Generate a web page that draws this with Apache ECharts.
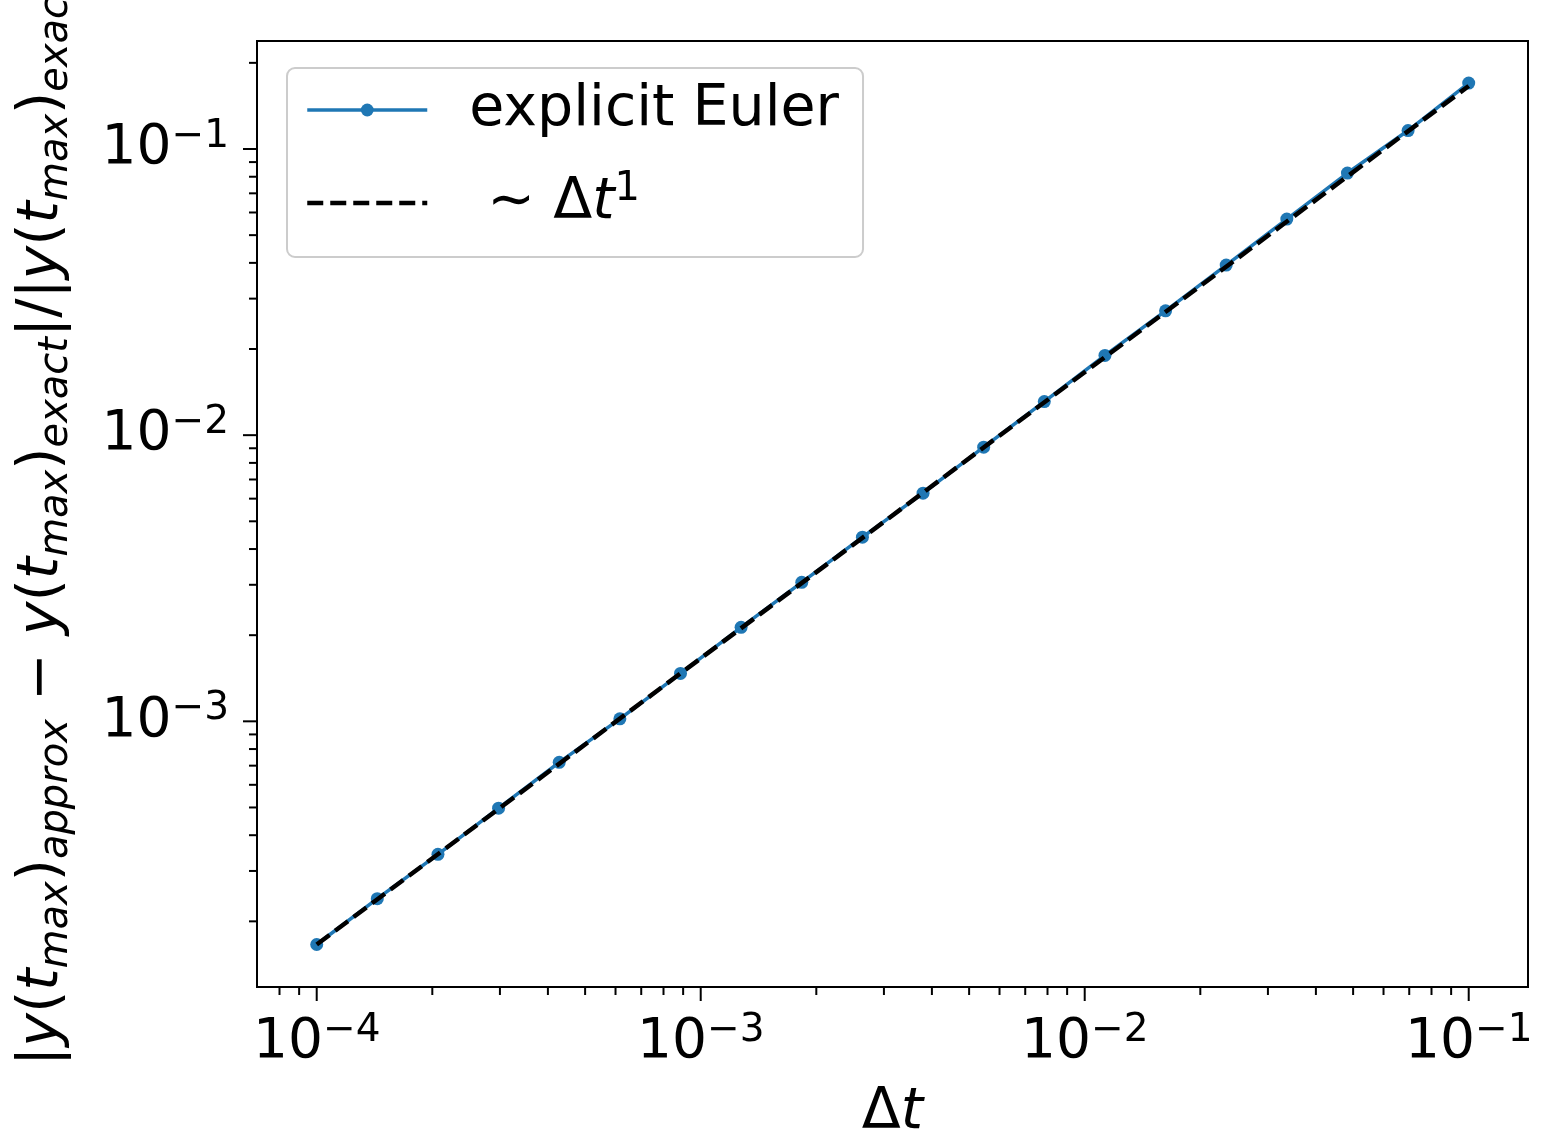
<!DOCTYPE html>
<html>
<head>
<meta charset="utf-8">
<title>explicit Euler convergence</title>
<script src="https://cdn.jsdelivr.net/npm/echarts@6/dist/echarts.min.js"></script>
<style>
  html, body { margin: 0; padding: 0; background: #fff; }
  #chart { width: 1542px; height: 1143px; }
</style>
</head>
<body>
<div id="chart"></div>
<script>
// step sizes (logspace 1e-4 .. 1e-1, 20 points)
var dtValues = [1.000e-4, 1.438e-4, 2.069e-4, 2.976e-4, 4.281e-4, 6.158e-4, 8.859e-4,
  1.274e-3, 1.833e-3, 2.637e-3, 3.793e-3, 5.456e-3, 7.848e-3, 1.129e-2, 1.624e-2,
  2.336e-2, 3.360e-2, 4.833e-2, 6.952e-2, 1.000e-1];
// relative error of explicit Euler
var eulerErr = [1.66e-4, 2.40e-4, 3.43e-4, 4.97e-4, 7.19e-4, 1.02e-3, 1.47e-3,
  2.13e-3, 3.06e-3, 4.40e-3, 6.27e-3, 9.08e-3, 1.31e-2, 1.90e-2, 2.72e-2,
  3.93e-2, 5.69e-2, 8.24e-2, 0.116, 0.170];
// ~dt^1 reference line (end points)
var refDt = [1.0e-4, 1.0e-1];
var refErr = [1.66e-4, 0.166];

// tick values
var xMajorTicks = [1e-4, 1e-3, 1e-2, 1e-1];
var xMinorTicks = [8e-5, 9e-5,
  2e-4, 3e-4, 4e-4, 5e-4, 6e-4, 7e-4, 8e-4, 9e-4,
  2e-3, 3e-3, 4e-3, 5e-3, 6e-3, 7e-3, 8e-3, 9e-3,
  2e-2, 3e-2, 4e-2, 5e-2, 6e-2, 7e-2, 8e-2, 9e-2];
var yMajorTicks = [1e-3, 1e-2, 1e-1];
var yMinorTicks = [2e-4, 3e-4, 4e-4, 5e-4, 6e-4, 7e-4, 8e-4, 9e-4,
  2e-3, 3e-3, 4e-3, 5e-3, 6e-3, 7e-3, 8e-3, 9e-3,
  2e-2, 3e-2, 4e-2, 5e-2, 6e-2, 7e-2, 8e-2, 9e-2, 2e-1];

var xMin = Math.pow(10, -4.1555), xMax = Math.pow(10, -0.8456);
var yMin = Math.pow(10, -3.9284), yMax = Math.pow(10, -0.6226);

var FONT = "DejaVu Sans";
var EULER = "explicit Euler";
var REF = "~Δt1";

function pow10Label(v) {
  var e = Math.round(Math.log10(v));
  return "{b|10}{s|" + (e < 0 ? "\u2212" + (-e) : e) + "}";
}

var labelRich = {
  b: { fontFamily: FONT, fontSize: 55, color: "#000", lineHeight: 64 },
  s: { fontFamily: FONT, fontSize: 39, color: "#000", lineHeight: 34, verticalAlign: "top" }
};

// short tick marks drawn through the axis scales
function tickSeries(values, dir, len) {
  return {
    type: "custom",
    silent: true,
    z: 10,
    xAxisIndex: 0,
    yAxisIndex: 0,
    data: values.map(function (v) { return dir === "x" ? [v, yMin] : [xMin, v]; }),
    renderItem: function (params, api) {
      var cs = params.coordSys;
      var p = api.coord([api.value(0), api.value(1)]);
      var shape;
      if (dir === "x") {
        var y0 = cs.y + cs.height;
        shape = { x1: p[0], y1: y0, x2: p[0], y2: y0 + len };
      } else {
        shape = { x1: cs.x - len, y1: p[1], x2: cs.x, y2: p[1] };
      }
      return { type: "line", shape: shape, style: { stroke: "#000", lineWidth: 2 } };
    }
  };
}

var yName = "{n||}{i|y}{n|(}{i|t}{s|max}{n|)}{s|approx}{n| \u2212 }{i|y}{n|(}{i|t}{s|max}{n|)}{s|exact}" +
  "{n||/|}{i|y}{n|(}{i|t}{s|max}{n|)}{s|exact}{n||}";

var nameRich = {
  n: { fontFamily: FONT, fontSize: 57, color: "#000", lineHeight: 70 },
  i: { fontFamily: FONT, fontStyle: "italic", fontSize: 57, color: "#000", lineHeight: 70 },
  s: { fontFamily: FONT, fontStyle: "italic", fontSize: 40, color: "#000", lineHeight: 40, verticalAlign: "bottom" }
};

var chart = echarts.init(document.getElementById("chart"), null, { renderer: "canvas" });

chart.setOption({
  animation: false,
  backgroundColor: "#fff",
  grid: {
    left: 257, top: 41, right: 14, bottom: 156,
    containLabel: false,
    outerBoundsMode: "none",
    show: true,
    borderColor: "#000",
    borderWidth: 2,
    backgroundColor: "#fff"
  },
  legend: {
    orient: "vertical",
    left: 287,
    top: 68,
    // the dashed entry keeps its line but hides the marker dot
    data: [EULER, { name: REF, itemStyle: { opacity: 0 } }],
    itemWidth: 120,
    itemHeight: 16,
    itemGap: 27,
    padding: [9, 24, 21, 18],
    backgroundColor: "#fff",
    borderColor: "#cccccc",
    borderWidth: 2,
    borderRadius: 8,
    lineStyle: { width: "inherit" },
    textStyle: {
      fontFamily: FONT,
      fontSize: 57,
      color: "#000",
      lineHeight: 66,
      padding: [0, 0, 0, 37],
      rich: {
        n: { fontFamily: FONT, fontSize: 57, color: "#000", lineHeight: 66 },
        i: { fontFamily: FONT, fontStyle: "italic", fontSize: 57, color: "#000", lineHeight: 66 },
        s: { fontFamily: FONT, fontSize: 40, color: "#000", lineHeight: 36, verticalAlign: "top" }
      }
    },
    formatter: function (name) {
      if (name === REF) return "{n| \u223C }{n|\u0394}{i|t}{s|1}";
      return name;
    }
  },
  xAxis: {
    type: "log",
    logBase: 10,
    min: xMin,
    max: xMax,
    name: "{n|\u0394}{i|t}",
    nameLocation: "middle",
    nameGap: 91,
    nameMoveOverlap: false,
    nameTextStyle: { rich: nameRich },
    axisLine: { show: false },
    axisTick: { show: false },
    minorTick: { show: false },
    splitLine: { show: false },
    axisLabel: {
      margin: 24,
      showMinLabel: false,
      showMaxLabel: false,
      hideOverlap: false,
      formatter: pow10Label,
      rich: labelRich
    }
  },
  yAxis: {
    type: "log",
    logBase: 10,
    min: yMin,
    max: yMax,
    name: yName,
    nameLocation: "middle",
    nameRotate: 90,
    nameGap: 180,
    nameMoveOverlap: false,
    nameTextStyle: { rich: nameRich },
    axisLine: { show: false },
    axisTick: { show: false },
    minorTick: { show: false },
    splitLine: { show: false },
    axisLabel: {
      margin: 28,
      showMinLabel: false,
      showMaxLabel: false,
      hideOverlap: false,
      formatter: pow10Label,
      rich: labelRich
    }
  },
  series: [
    {
      name: EULER,
      type: "line",
      data: dtValues.map(function (d, k) { return [d, eulerErr[k]]; }),
      symbol: "circle",
      symbolSize: 13,
      showSymbol: true,
      z: 3,
      itemStyle: { color: "#1f77b4" },
      lineStyle: { color: "#1f77b4", width: 3.5 }
    },
    {
      name: REF,
      type: "line",
      data: refDt.map(function (d, k) { return [d, refErr[k]]; }),
      symbol: "none",
      z: 4,
      itemStyle: { color: "#000" },
      lineStyle: { color: "#000", width: 4.5, type: [16, 7] }
    },
    tickSeries(xMajorTicks, "x", 14),
    tickSeries(xMinorTicks, "x", 8),
    tickSeries(yMajorTicks, "y", 14),
    tickSeries(yMinorTicks, "y", 8)
  ]
});
</script>
</body>
</html>
